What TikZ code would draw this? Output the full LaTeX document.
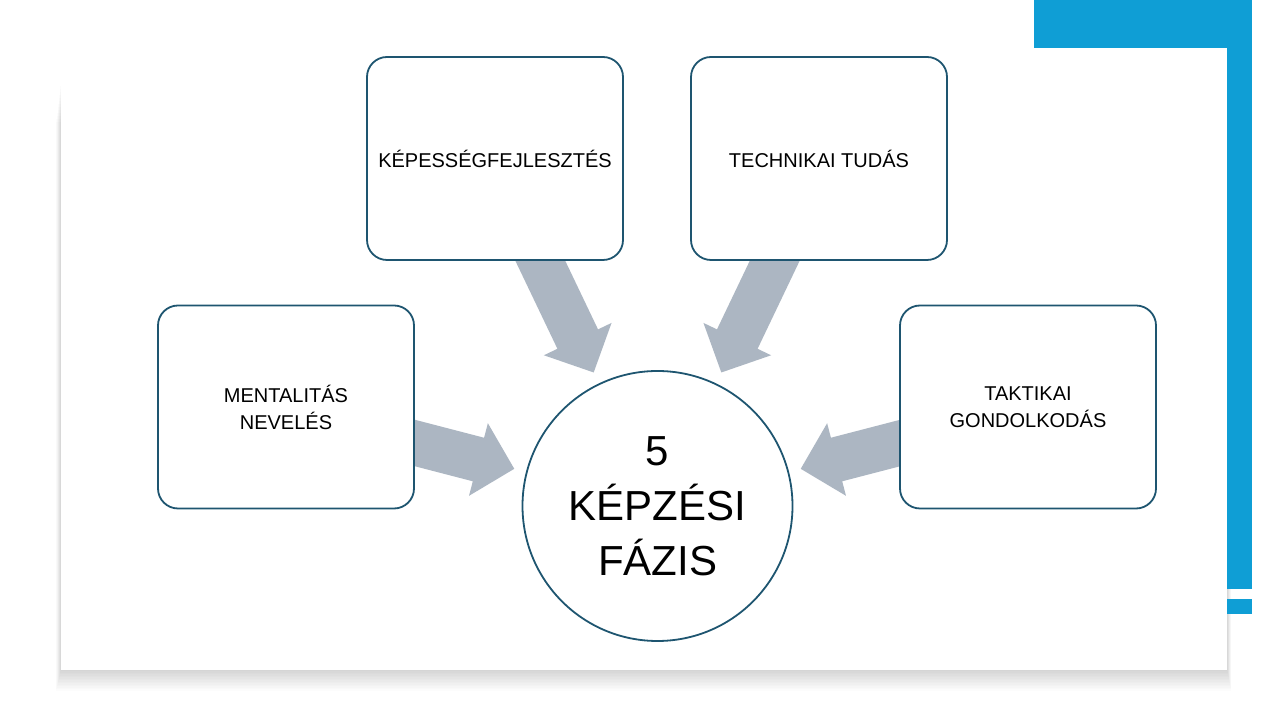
\documentclass[tikz,border=0pt]{standalone}
\usepackage{fontspec}
\setmainfont{Liberation Sans}
\usetikzlibrary{calc}
\definecolor{accent}{HTML}{0F9ED5}
\definecolor{edgecol}{HTML}{1E5570}
\definecolor{arrowgray}{HTML}{ACB6C2}
\pgfdeclarelayer{bgl}
\pgfdeclarelayer{arrl}
\pgfsetlayers{bgl,arrl,main}
% fat block arrow from named coordinate #1 to named tip coordinate #2
\newcommand\fatarrowdraw[2]{%
  \coordinate (hb) at ($(#2)!37pt!(#1)$);
  \fill[arrowgray] ($(#1)!22.5pt!90:(#2)$) -- ($(hb)!22.5pt!90:(#2)$)
    -- ($(hb)!37.5pt!90:(#2)$) -- (#2) -- ($(hb)!37.5pt!-90:(#2)$)
    -- ($(hb)!22.5pt!-90:(#2)$) -- ($(#1)!22.5pt!-90:(#2)$) -- cycle;}
\begin{document}
\begin{tikzpicture}[x=1pt,y=1pt,
  boxst/.style={draw=edgecol, line width=1.8pt, fill=white, rounded corners=20pt,
    minimum width=256pt, minimum height=203pt, align=center, inner sep=0pt,
    font=\fontsize{20}{27}\selectfont},
  circst/.style={circle, draw=edgecol, line width=1.8pt, fill=white,
    minimum size=270pt, align=center, inner sep=0pt,
    font=\fontsize{42}{55}\selectfont}]
\useasboundingbox (0,0) rectangle (1280,720);
\begin{pgfonlayer}{bgl}
  \fill[white] (0,0) rectangle (1280,720);
  \foreach \i in {1,...,14}
    \fill[black,opacity=0.012] (61-\i*0.35, 50-\i*1.5) rectangle (1227+\i*0.3, 640-\i*3);
  \fill[white] (61,50) rectangle (1227,672);
  \fill[accent] (1034,672) rectangle (1252,720);
  \fill[accent] (1227,131) rectangle (1252,672);
  \fill[accent] (1227,106) rectangle (1252,121);
\end{pgfonlayer}

\node[boxst] (kep) at (495,561.5) {KÉPESSÉGFEJLESZTÉS};
\node[boxst] (tech) at (819,561.5) {TECHNIKAI TUDÁS};
\node[boxst] (ment) at (286,313) {MENTALITÁS\\NEVELÉS};
\node[boxst] (takt) at (1028,313) {TAKTIKAI\\GONDOLKODÁS};
\node[circst] (circ) at (657.5,214) {5\\KÉPZÉSI\\FÁZIS};

\coordinate (s1) at ($(ment.center)+(98,-28)$);
\coordinate (s2) at ($(kep.center)+(32,-74.5)$);
\coordinate (s3) at ($(tech.center)+(-31,-74.5)$);
\coordinate (s4) at ($(takt.center)+(-97,-28)$);
\coordinate (e1) at ($(circ.center)!148pt!(s1)$);
\coordinate (e2) at ($(circ.center)!148pt!(s2)$);
\coordinate (e3) at ($(circ.center)!148pt!(s3)$);
\coordinate (e4) at ($(circ.center)!148pt!(s4)$);
\begin{pgfonlayer}{arrl}
  \fatarrowdraw{s1}{e1}
  \fatarrowdraw{s2}{e2}
  \fatarrowdraw{s3}{e3}
  \fatarrowdraw{s4}{e4}
\end{pgfonlayer}
\end{tikzpicture}
\end{document}
